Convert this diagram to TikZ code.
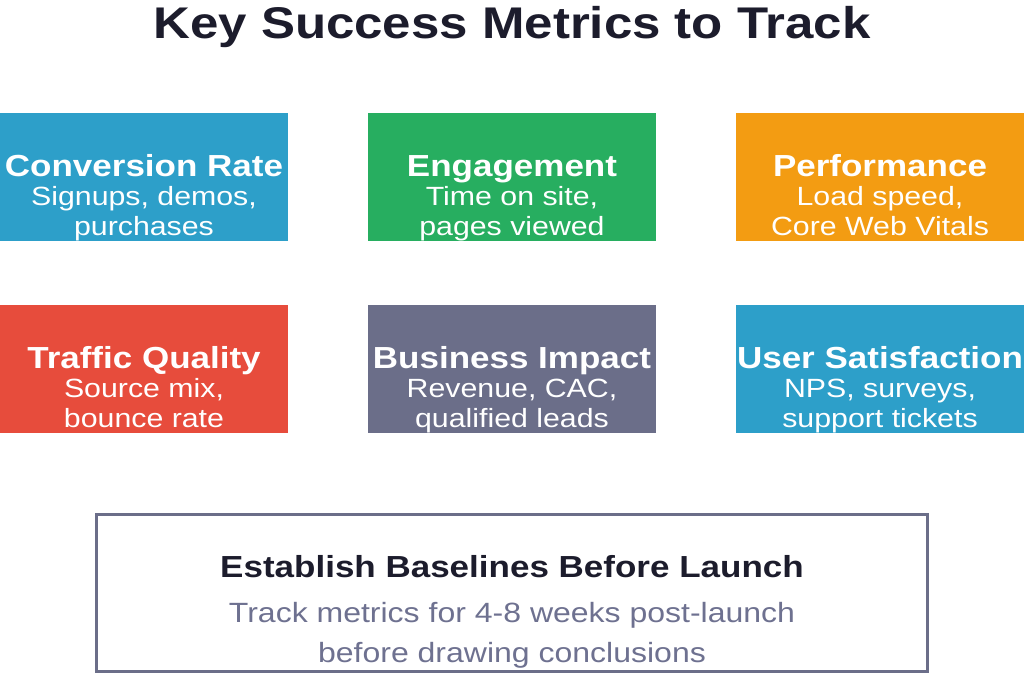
\documentclass[tikz,border=0pt]{standalone}
\usepackage{fontspec}
\usepackage{graphicx}
\setmainfont{Liberation Sans}
\definecolor{cblue}{HTML}{2D9FC9}
\definecolor{cgreen}{HTML}{27AE60}
\definecolor{corange}{HTML}{F39C12}
\definecolor{cred}{HTML}{E74C3C}
\definecolor{cslate}{HTML}{6B6E89}
\definecolor{cdark}{HTML}{1C1C2C}
\definecolor{cgray}{HTML}{6E7190}
\newcommand{\vsq}[1]{\scalebox{1}[0.87]{#1}}
\begin{document}
\begin{tikzpicture}[x=1pt,y=-1pt,
  metricbox/.style={draw=none, minimum width=288pt, minimum height=128pt, inner sep=0pt, anchor=north west},
  boxtitle/.style={anchor=base, inner sep=0pt, text=white, font=\fontsize{35}{35}\selectfont\bfseries},
  boxsub/.style={anchor=base, inner sep=0pt, text=white, font=\fontsize{30.3}{30}\selectfont},
  maintitle/.style={anchor=base, inner sep=0pt, text=cdark, font=\fontsize{51}{51}\selectfont\bfseries},
  notetitle/.style={anchor=base, inner sep=0pt, text=cdark, font=\fontsize{35}{35}\selectfont\bfseries},
  notesub/.style={anchor=base, inner sep=0pt, text=cgray, font=\fontsize{32}{32}\selectfont},
  notebox/.style={draw=cslate, line width=3pt, fill=white}
]
\useasboundingbox (0,0) rectangle (1024,675);
\fill[white] (0,0) rectangle (1024,675);

\node[maintitle] (title) at (512,38) {\vsq{Key Success Metrics to Track}};

% row 1
\node[metricbox, fill=cblue] (b1) at (0,113) {};
\node[metricbox, fill=cgreen] (b2) at (368,113) {};
\node[metricbox, fill=corange] (b3) at (736,113) {};
% row 2
\node[metricbox, fill=cred] (b4) at (0,305) {};
\node[metricbox, fill=cslate] (b5) at (368,305) {};
\node[metricbox, fill=cblue] (b6) at (736,305) {};

\node[boxtitle] (t1) at (144,176) {\vsq{Conversion Rate}};
\node[boxsub] (s1a) at (144,205) {\vsq{Signups, demos,}};
\node[boxsub] (s1b) at (144,235) {\vsq{purchases}};

\node[boxtitle] (t2) at (512,176) {\vsq{Engagement}};
\node[boxsub] (s2a) at (512,205) {\vsq{Time on site,}};
\node[boxsub] (s2b) at (512,235) {\vsq{pages viewed}};

\node[boxtitle] (t3) at (880,176) {\vsq{Performance}};
\node[boxsub] (s3a) at (880,205) {\vsq{Load speed,}};
\node[boxsub] (s3b) at (880,235) {\vsq{Core Web Vitals}};

\node[boxtitle] (t4) at (144,368) {\vsq{Traffic Quality}};
\node[boxsub] (s4a) at (144,397) {\vsq{Source mix,}};
\node[boxsub] (s4b) at (144,427) {\vsq{bounce rate}};

\node[boxtitle] (t5) at (512,368) {\vsq{Business Impact}};
\node[boxsub] (s5a) at (512,397) {\vsq{Revenue, CAC,}};
\node[boxsub] (s5b) at (512,427) {\vsq{qualified leads}};

\node[boxtitle] (t6) at (880,368) {\vsq{User Satisfaction}};
\node[boxsub] (s6a) at (880,397) {\vsq{NPS, surveys,}};
\node[boxsub] (s6b) at (880,427) {\vsq{support tickets}};

% bottom note
\draw[notebox] (96.5,514.5) rectangle (927.5,671.5);
\node[notetitle] (nt) at (512,577) {\vsq{Establish Baselines Before Launch}};
\node[notesub] (ns1) at (512,622) {\vsq{Track metrics for 4-8 weeks post-launch}};
\node[notesub] (ns2) at (512,662) {\vsq{before drawing conclusions}};
\end{tikzpicture}
\end{document}
